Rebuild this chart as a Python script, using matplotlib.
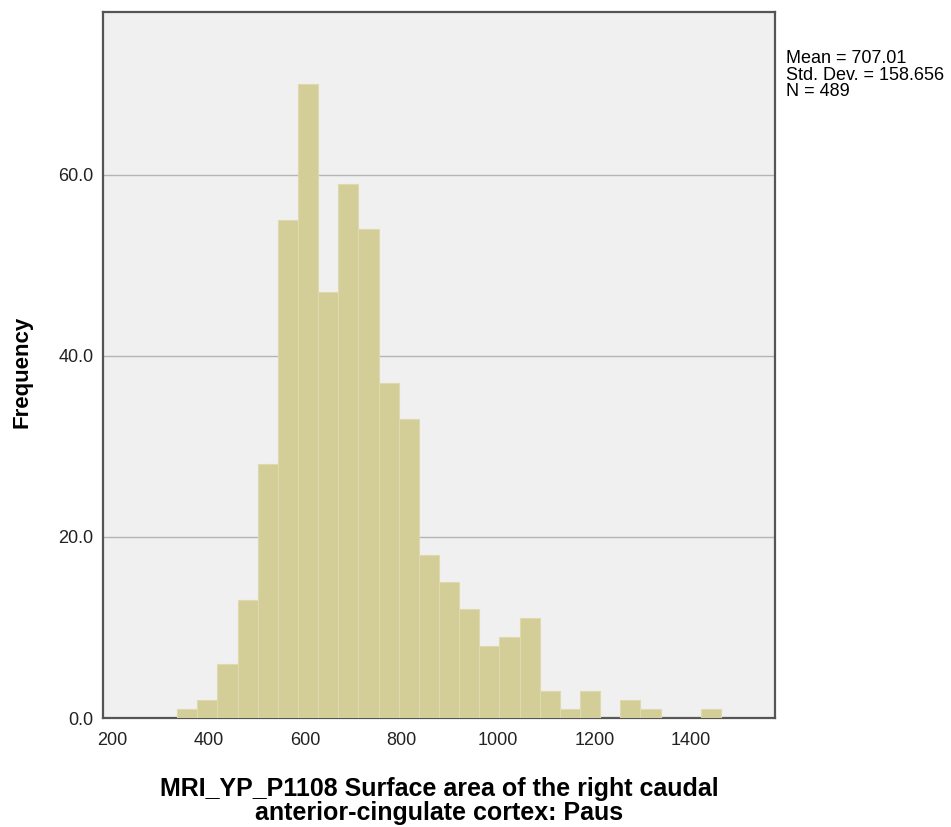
import numpy as np
import matplotlib
matplotlib.use('Agg')
import matplotlib.pyplot as plt

# histogram counts (27 bins)
counts = [1, 2, 6, 13, 28, 55, 70, 47, 59, 54, 37, 33, 18, 15,
          12, 8, 9, 11, 3, 1, 3, 0, 2, 1, 0, 0, 1]
bin_start = 334.8
bin_width = 41.74
x_ticks = [200, 400, 600, 800, 1000, 1200, 1400]
y_ticks = [0, 20, 40, 60]
stats_text = 'Mean = 707.01\nStd. Dev. = 158.656\nN = 489'
x_label = 'MRI_YP_P1108 Surface area of the right caudal\nanterior-cingulate cortex: Paus'

plt.rcParams['font.family'] = ['Liberation Sans', 'DejaVu Sans']

fig = plt.figure(figsize=(9.51, 8.27), dpi=100)
ax = fig.add_axes([0.1083, 0.1318, 0.7067, 0.854])

edges = bin_start + bin_width * np.arange(len(counts))
ax.set_facecolor('#f0f0f0')
ax.bar(edges, counts, width=bin_width, align='edge', color='#d3ce97',
       edgecolor='#dedaae', linewidth=0.8, zorder=3)

ax.set_xlim(181, 1574)
ax.set_ylim(0, 78)
ax.set_xticks(x_ticks)
ax.set_yticks(y_ticks)
ax.set_yticklabels([f'{v:.1f}' for v in y_ticks])
ax.tick_params(length=0, labelsize=13, colors='#222222')
ax.tick_params(axis='x', pad=10)
ax.tick_params(axis='y', pad=7)
ax.grid(axis='y', color='#b4b4b4', linewidth=1, zorder=1)

for s in ax.spines.values():
    s.set_color('#555555')
    s.set_linewidth(1.6)

fig.text(22 / 951, 1 - 372 / 827, 'Frequency', rotation=90, fontsize=16,
         fontweight='bold', ha='center', va='center')
fig.text(439 / 951, 1 - 801 / 827, x_label, fontsize=18, fontweight='bold',
         ha='center', va='center', multialignment='center', linespacing=0.97)

fig.text(786 / 951, 1 - 50 / 827, stats_text, fontsize=13, va='top',
         ha='left', linespacing=0.98)

fig.savefig('out.png', dpi=100)
